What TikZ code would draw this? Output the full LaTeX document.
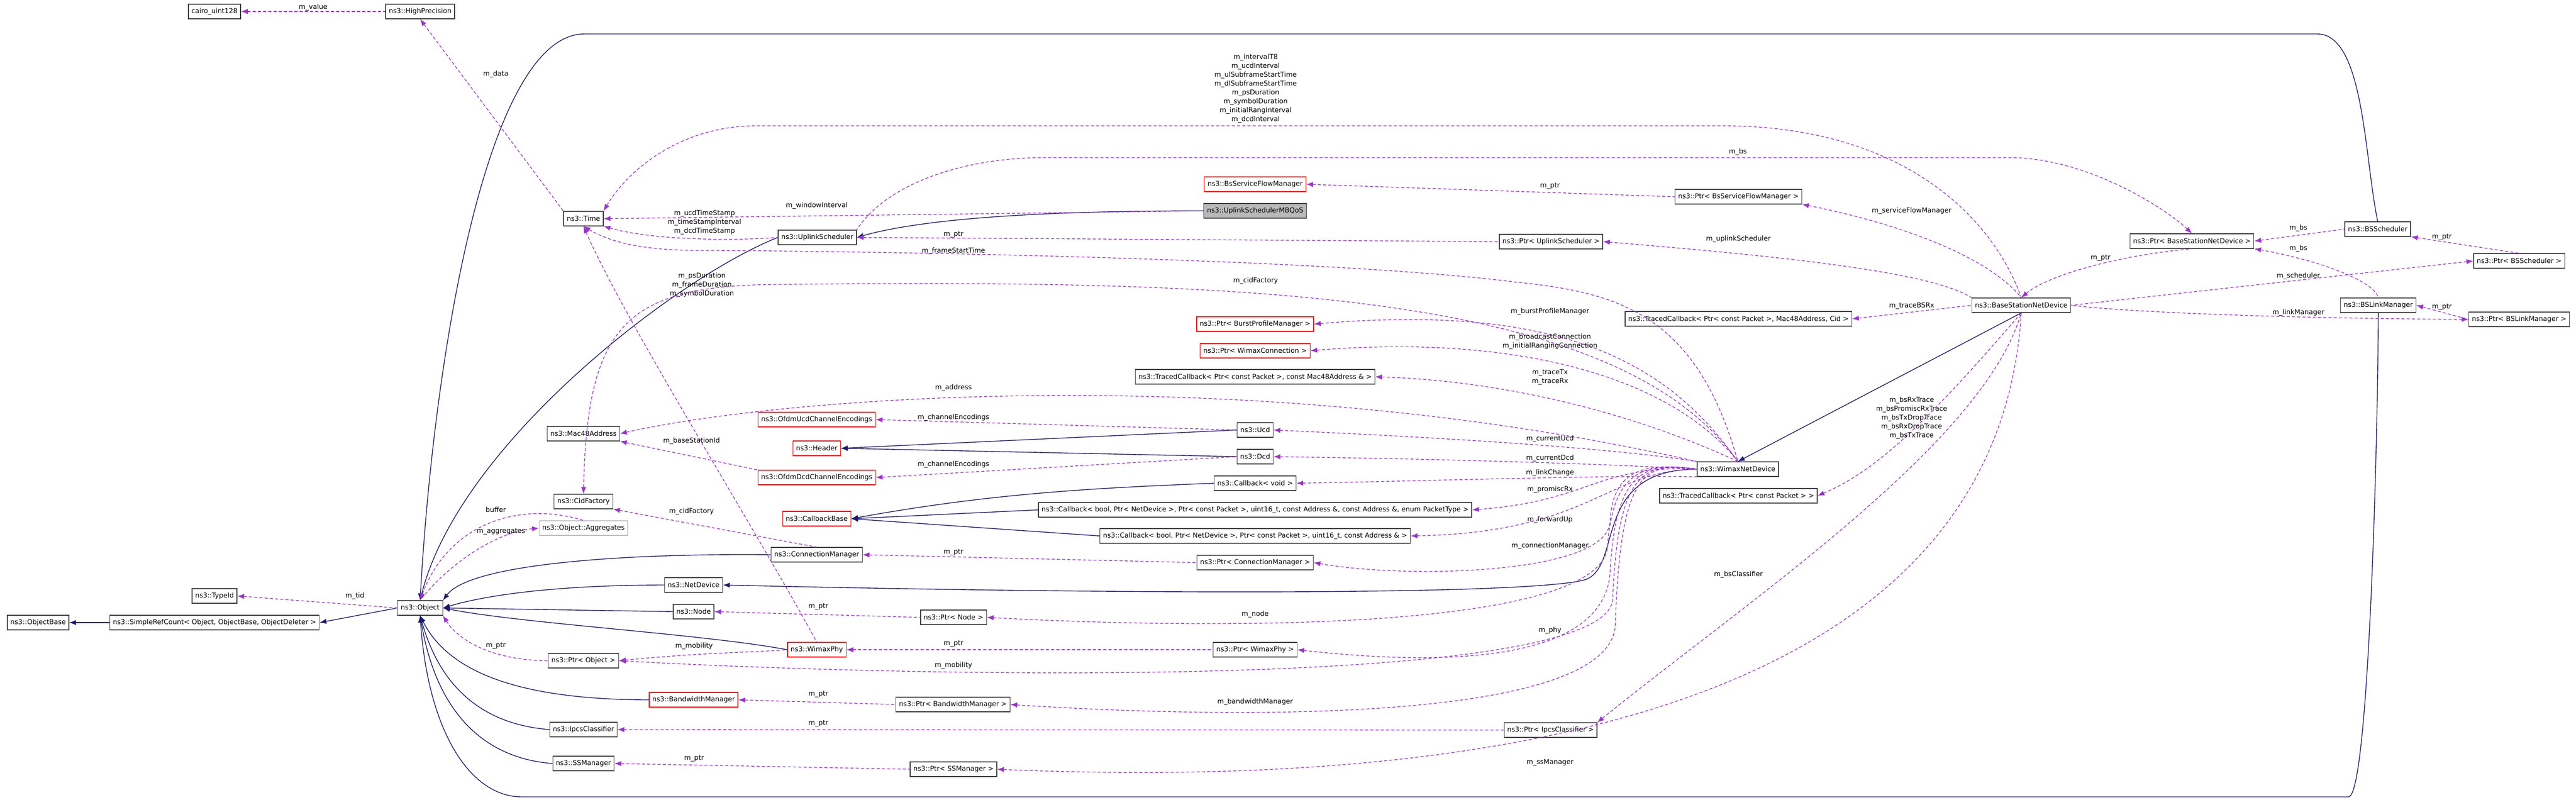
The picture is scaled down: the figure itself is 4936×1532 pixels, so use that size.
\documentclass[tikz,border=0pt]{standalone}
\usepackage{fontspec}
\setmainfont{DejaVu Sans}
\usetikzlibrary{arrows.meta}
\definecolor{usec}{HTML}{9A32CD}
\definecolor{inhc}{HTML}{191970}
\begin{document}
\begin{tikzpicture}[x=1pt,y=-1pt,
 box/.style={draw=black!75,line width=1.3pt,fill=white,font=\fontsize{13}{15}\selectfont,minimum height=28pt,inner xsep=6pt,inner ysep=2pt},
 redbox/.style={box,draw=red},
 graybox/.style={box,draw=gray!50},
 selbox/.style={box,fill=gray!55},
 lab/.style={font=\fontsize{13}{17}\selectfont,align=center,inner sep=1pt},
 use/.style={draw=usec,dashed,dash pattern=on 6pt off 4pt,line width=1.3pt,{Latex[length=13pt,width=10pt]}-},
 inh/.style={draw=inhc,line width=1.4pt,{Latex[length=13pt,width=10pt]}-}]
\useasboundingbox (0,0) rectangle (4936,1532);
% nodes
\node[box] (cairo) at (411,22) {cairo\_uint128};
\node[box] (hp) at (805,22) {ns3::HighPrecision};
\node[box] (time) at (1118,419) {ns3::Time};
\node[box] (mac) at (1118,831) {ns3::Mac48Address};
\node[box] (cidf) at (1118,961) {ns3::CidFactory};
\node[graybox] (agg) at (1118,1012) {ns3::Object::Aggregates};
\node[box] (typeid) at (411,1142) {ns3::TypeId};
\node[box] (obj) at (805,1165) {ns3::Object};
\node[box] (ob) at (73,1193) {ns3::ObjectBase};
\node[box] (src) at (411,1193) {ns3::SimpleRefCount< Object, ObjectBase, ObjectDeleter >};
\node[box] (pobj) at (1118,1266) {ns3::Ptr< Object >};
\node[box] (ipcs) at (1118,1398) {ns3::IpcsClassifier};
\node[box] (ssm) at (1118,1463) {ns3::SSManager};
\node[redbox] (bssfm) at (2405,353) {ns3::BsServiceFlowManager};
\node[selbox] (mbqos) at (2405,404) {ns3::UplinkSchedulerMBQoS};
\node[box] (us) at (1566,455) {ns3::UplinkScheduler};
\node[redbox] (pbpm) at (2405,621) {ns3::Ptr< BurstProfileManager >};
\node[redbox] (pwc) at (2405,672) {ns3::Ptr< WimaxConnection >};
\node[box] (tcmac) at (2405,722) {ns3::TracedCallback< Ptr< const Packet >, const Mac48Address \& >};
\node[redbox] (oucd) at (1565,804) {ns3::OfdmUcdChannelEncodings};
\node[box] (ucd) at (2405,824) {ns3::Ucd};
\node[redbox] (hdr) at (1565,859) {ns3::Header};
\node[box] (dcd) at (2405,875) {ns3::Dcd};
\node[redbox] (odcd) at (1565,915) {ns3::OfdmDcdChannelEncodings};
\node[box] (cbvoid) at (2405,926) {ns3::Callback< void >};
\node[box] (cbpt) at (2405,977) {ns3::Callback< bool, Ptr< NetDevice >, Ptr< const Packet >, uint16\_t, const Address \&, const Address \&, enum PacketType >};
\node[redbox] (cbb) at (1565,994) {ns3::CallbackBase};
\node[box] (cbaddr) at (2405,1027) {ns3::Callback< bool, Ptr< NetDevice >, Ptr< const Packet >, uint16\_t, const Address \& >};
\node[box] (cm) at (1565,1063) {ns3::ConnectionManager};
\node[box] (pcm) at (2405,1078) {ns3::Ptr< ConnectionManager >};
\node[box] (nd) at (1329,1121) {ns3::NetDevice};
\node[box] (node) at (1329,1172) {ns3::Node};
\node[box] (pnode) at (1827,1183) {ns3::Ptr< Node >};
\node[redbox] (wp) at (1565,1245) {ns3::WimaxPhy};
\node[box] (pwp) at (2405,1245) {ns3::Ptr< WimaxPhy >};
\node[redbox] (bm) at (1329,1341) {ns3::BandwidthManager};
\node[box] (pbm) at (1826,1350) {ns3::Ptr< BandwidthManager >};
\node[box] (pipcs) at (2971,1399) {ns3::Ptr< IpcsClassifier >};
\node[box] (pssm) at (1827,1474) {ns3::Ptr< SSManager >};
\node[box] (pbssfm) at (3331,377) {ns3::Ptr< BsServiceFlowManager >};
\node[box] (pus) at (2972,463) {ns3::Ptr< UplinkScheduler >};
\node[box] (pbsnd) at (4200,462) {ns3::Ptr< BaseStationNetDevice >};
\node[box] (bss) at (4556,439) {ns3::BSScheduler};
\node[box] (pbss) at (4827,500) {ns3::Ptr< BSScheduler >};
\node[box] (bsnd) at (3873,585) {ns3::BaseStationNetDevice};
\node[box] (tccid) at (3331,611) {ns3::TracedCallback< Ptr< const Packet >, Mac48Address, Cid >};
\node[box] (bslm) at (4557,585) {ns3::BSLinkManager};
\node[box] (pbslm) at (4827,612) {ns3::Ptr< BSLinkManager >};
\node[box] (wnd) at (3330,899) {ns3::WimaxNetDevice};
\node[box] (tcp) at (3331,950) {ns3::TracedCallback< Ptr< const Packet > >};
% inheritance
\draw[inh] (ob.east) -- (src.west);
\draw[inh] (src.east) -- (obj.west);
\draw[inh] (obj.north) .. controls (880,850) and (1300,530) .. (us.west);
\draw[inh] (obj.north) .. controls (830,700) and (930,65) .. (1120,65) -- (4440,65) .. controls (4530,65) and (4530,300) .. (bss.north);
\draw[inh] (obj.north east) .. controls (900,1080) and (1200,1060) .. (cm.west);
\draw[inh] (obj.east) .. controls (950,1135) and (1100,1121) .. (nd.west);
\draw[inh] (obj.east) -- (node.west);
\draw[inh] (obj.east) .. controls (1000,1195) and (1350,1215) .. (wp.west);
\draw[inh] (obj.south) .. controls (860,1290) and (1000,1341) .. (bm.west);
\draw[inh] (obj.south) .. controls (850,1340) and (950,1390) .. (ipcs.west);
\draw[inh] (obj.south) .. controls (840,1390) and (950,1455) .. (ssm.west);
\draw[inh] (obj.south) .. controls (820,1400) and (900,1527) .. (1000,1527) -- (4500,1527) .. controls (4540,1527) and (4557,800) .. (bslm.south);
\draw[inh] (us.east) .. controls (1800,410) and (2100,404) .. (mbqos.west);
\draw[inh] (hdr.east) -- (ucd.west);
\draw[inh] (hdr.east) -- (dcd.west);
\draw[inh] (cbb.east) .. controls (1900,945) and (2100,935) .. (cbvoid.west);
\draw[inh] (cbb.east) -- (cbpt.west);
\draw[inh] (cbb.east) -- (cbaddr.west);
\draw[inh] (nd.east) .. controls (2200,1140) and (2950,1140) .. (3040,1110) .. controls (3110,1080) and (3050,900) .. (wnd.west);
\draw[inh] (wnd.north) -- (bsnd.south);
% usage
\draw[use] (cairo.east) -- (hp.west) node[lab,pos=0.5,above] (l1) {m\_value};
\draw[use] (hp.south) -- (time.north west);
\node[lab] (l2) at (950,142) {m\_data};
\draw[use] (time.north east) .. controls (1200,330) and (1300,241) .. (1450,241) -- (3300,241) .. controls (3650,241) and (3820,420) .. (bsnd.north);
\node[lab] (l3) at (2406,170) {m\_intervalT8\\m\_ucdInterval\\m\_ulSubframeStartTime\\m\_dlSubframeStartTime\\m\_psDuration\\m\_symbolDuration\\m\_initialRangInterval\\m\_dcdInterval};
\draw[use] (time.east) -- (mbqos.west);
\node[lab] (l4) at (1565,394) {m\_windowInterval};
\draw[use] (time.south east) .. controls (1250,460) and (1400,462) .. (us.west);
\node[lab] (l5) at (1350,426) {m\_ucdTimeStamp\\m\_timeStampInterval\\m\_dcdTimeStamp};
\draw[use] (time.south) .. controls (1180,470) and (1250,480) .. (1350,480) .. controls (1500,480) and (2500,490) .. (2900,540) .. controls (3100,560) and (3250,600) .. (wnd.north);
\node[lab] (l6) at (1827,481) {m\_frameStartTime};
\draw[use] (time.south) .. controls (1200,620) and (1440,1000) .. (wp.north);
\node[lab] (l7) at (1345,546) {m\_psDuration\\m\_frameDuration\\m\_symbolDuration};
\draw[use] (pbsnd.north) .. controls (4150,400) and (4000,302) .. (3850,302) -- (2000,302) .. controls (1850,302) and (1700,350) .. (us.north east);
\node[lab] (l8) at (3330,291) {m\_bs};
\draw[use] (bssfm.east) -- (pbssfm.west);
\node[lab] (l9) at (2970,356) {m\_ptr};
\draw[use] (us.east) -- (pus.west);
\node[lab] (l10) at (1827,449) {m\_ptr};
\draw[use] (pbssfm.south east) .. controls (3600,420) and (3800,480) .. (bsnd.north);
\node[lab] (l11) at (3663,404) {m\_serviceFlowManager};
\draw[use] (pus.east) .. controls (3400,490) and (3700,520) .. (bsnd.north west);
\node[lab] (l12) at (3331,458) {m\_uplinkScheduler};
\draw[use] (pbsnd.east) -- (bss.west);
\node[lab] (l13) at (4404,437) {m\_bs};
\draw[use] (pbsnd.south east) .. controls (4450,500) and (4550,540) .. (bslm.north);
\node[lab] (l14) at (4404,476) {m\_bs};
\draw[use] (bsnd.north) .. controls (3920,530) and (4050,490) .. (pbsnd.south);
\node[lab] (l15) at (4025,494) {m\_ptr};
\draw[use] (bss.south east) -- (pbss.north);
\node[lab] (l16) at (4679,454) {m\_ptr};
\draw[use] (pbss.west) -- (bsnd.east);
\node[lab] (l17) at (4404,529) {m\_scheduler};
\draw[use] (bslm.east) -- (pbslm.west);
\node[lab] (l18) at (4679,588) {m\_ptr};
\draw[use] (pbslm.west) .. controls (4400,610) and (4100,600) .. (bsnd.east);
\node[lab] (l19) at (4404,599) {m\_linkManager};
\draw[use] (tccid.east) -- (bsnd.west);
\node[lab] (l20) at (3663,586) {m\_traceBSRx};
\draw[use] (tcp.east) .. controls (3600,900) and (3700,800) .. (bsnd.south);
\node[lab] (l21) at (3663,801) {m\_bsRxTrace\\m\_bsPromiscRxTrace\\m\_bsTxDropTrace\\m\_bsRxDropTrace\\m\_bsTxTrace};
\draw[use] (pipcs.north east) .. controls (3350,1150) and (3800,850) .. (bsnd.south);
\node[lab] (l22) at (3331,1101) {m\_bsClassifier};
\draw[use] (pssm.east) .. controls (3000,1520) and (3830,1300) .. (bsnd.south);
\node[lab] (l23) at (2970,1461) {m\_ssManager};
\draw[use] (cidf.north) .. controls (1125,620) and (1200,545) .. (1500,545) .. controls (2400,535) and (3100,560) .. (wnd.north);
\node[lab] (l24) at (2406,538) {m\_cidFactory};
\draw[use] (cidf.south east) -- (cm.north);
\node[lab] (l25) at (1325,980) {m\_cidFactory};
\draw[use] (mac.east) .. controls (1500,760) and (2400,690) .. (wnd.north west);
\node[lab] (l26) at (1827,743) {m\_address};
\draw[use] (mac.south east) -- (odcd.north west);
\node[lab] (l27) at (1325,845) {m\_baseStationId};
\draw[use] (pbpm.east) .. controls (3000,580) and (3200,700) .. (wnd.north);
\node[lab] (l28) at (2970,597) {m\_burstProfileManager};
\draw[use] (pwc.east) .. controls (2900,640) and (3200,720) .. (wnd.north);
\node[lab] (l29) at (2970,655) {m\_broadcastConnection\\m\_initialRangingConnection};
\draw[use] (tcmac.east) .. controls (2900,730) and (3150,800) .. (wnd.north);
\node[lab] (l30) at (2970,723) {m\_traceTx\\m\_traceRx};
\draw[use] (oucd.east) -- (ucd.west);
\node[lab] (l31) at (1827,800) {m\_channelEncodings};
\draw[use] (odcd.east) -- (dcd.west);
\node[lab] (l32) at (1827,890) {m\_channelEncodings};
\draw[use] (ucd.east) .. controls (2800,840) and (3100,860) .. (wnd.north west);
\node[lab] (l33) at (2970,841) {m\_currentUcd};
\draw[use] (dcd.east) .. controls (2800,880) and (3100,890) .. (wnd.west);
\node[lab] (l34) at (2970,878) {m\_currentDcd};
\draw[use] (cbvoid.east) .. controls (2800,920) and (3100,910) .. (wnd.south west);
\node[lab] (l35) at (2970,906) {m\_linkChange};
\draw[use] (cbpt.east) .. controls (3050,960) and (3060,890) .. (wnd.west);
\node[lab] (l36) at (2970,938) {m\_promiscRx};
\draw[use] (cbaddr.east) .. controls (3050,1020) and (3080,900) .. (wnd.west);
\node[lab] (l37) at (2970,996) {m\_forwardUp};
\draw[use] (cm.east) -- (pcm.west);
\node[lab] (l38) at (1827,1058) {m\_ptr};
\draw[use] (pcm.east) .. controls (2700,1110) and (3080,1100) .. (3085,1000) .. controls (3090,900) and (3150,885) .. (wnd.west);
\node[lab] (l39) at (2970,1046) {m\_connectionManager};
\draw[use] (node.east) -- (pnode.west);
\node[lab] (l40) at (1568,1162) {m\_ptr};
\draw[use] (pnode.east) .. controls (2400,1210) and (3060,1200) .. (3080,1050) .. controls (3090,900) and (3150,885) .. (wnd.west);
\node[lab] (l41) at (2405,1177) {m\_node};
\draw[use] (wp.east) -- (pwp.west);
\node[lab] (l42) at (1827,1233) {m\_ptr};
\draw[use] (pwp.east) .. controls (2800,1280) and (3070,1260) .. (3085,1100) .. controls (3095,900) and (3150,885) .. (wnd.west);
\node[lab] (l43) at (2970,1208) {m\_phy};
\draw[use] (pobj.east) .. controls (1350,1250) and (1450,1250) .. (wp.west);
\node[lab] (l44) at (1330,1238) {m\_mobility};
\draw[use] (pobj.east) .. controls (1800,1300) and (3070,1320) .. (3090,1150) .. controls (3100,900) and (3150,885) .. (wnd.west);
\node[lab] (l45) at (1827,1275) {m\_mobility};
\draw[use] (bm.east) -- (pbm.west);
\node[lab] (l46) at (1568,1330) {m\_ptr};
\draw[use] (pbm.east) .. controls (2400,1380) and (3080,1380) .. (3095,1200) .. controls (3105,900) and (3150,885) .. (wnd.west);
\node[lab] (l47) at (2405,1345) {m\_bandwidthManager};
\draw[use] (ipcs.east) -- (pipcs.west);
\node[lab] (l48) at (1568,1386) {m\_ptr};
\draw[use] (ssm.east) -- (pssm.west);
\node[lab] (l49) at (1330,1453) {m\_ptr};
\draw[use] (obj.south east) .. controls (880,1230) and (950,1266) .. (pobj.west);
\node[lab] (l50) at (950,1237) {m\_ptr};
\draw[use] (typeid.east) -- (obj.west);
\node[lab] (l51) at (680,1142) {m\_tid};
\draw[use] (agg.west) .. controls (950,1020) and (860,1080) .. (obj.north);
\node[lab] (l52) at (960,1018) {m\_aggregates};
\draw[use] (obj.north) .. controls (860,1000) and (1000,960) .. (agg.north);
\node[lab] (l53) at (950,977) {buffer};
\end{tikzpicture}
\end{document}
